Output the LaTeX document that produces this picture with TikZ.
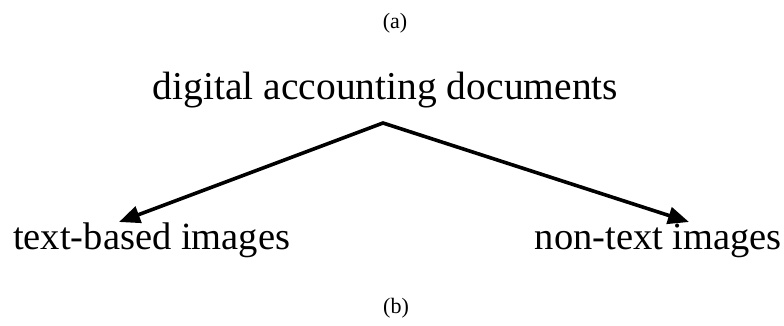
\documentclass[tikz,border=0pt]{standalone}
\usepackage{fontspec}
\setmainfont{Liberation Serif}
\usetikzlibrary{arrows.meta}
\begin{document}
\begin{tikzpicture}[x=1pt,y=1pt,
    caption/.style={inner sep=0pt,font=\fontsize{22}{26}\selectfont},
    term/.style={inner sep=0pt,font=\fontsize{38.5}{44}\selectfont},
    branch/.style={line width=3.6pt,line join=miter,
      {Triangle[length=21pt,width=17pt]}-{Triangle[length=21pt,width=17pt]}}]
  \useasboundingbox (0,0) rectangle (784,325);
  % captions
  \node[caption,anchor=base] (capa) at (395,297) {(a)};
  \node[caption,anchor=base] (capb) at (396,12) {(b)};
  % root and leaves
  \node[term,anchor=base,font=\fontsize{39.5}{44}\selectfont] (root) at (385.5,226) {digital accounting documents};
  \node[term,anchor=base west] (textimg) at (13,76) {text-based images};
  \node[term,anchor=base east] (nontext) at (782,76) {non-text images};
  % branch point and arrow tips
  \coordinate (split) at (383,202);
  \coordinate (tipL) at (119,103);
  \coordinate (tipR) at (689,103);
  \draw[branch] (tipL) -- (split) -- (tipR);
\end{tikzpicture}
\end{document}
